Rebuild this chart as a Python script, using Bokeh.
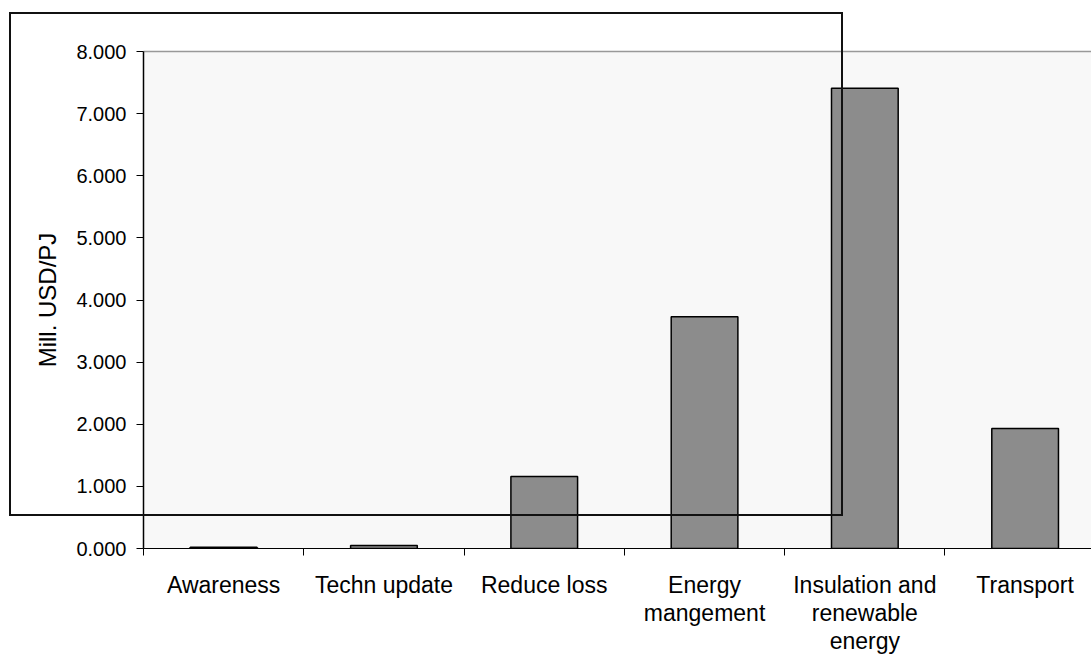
from bokeh.plotting import figure
from bokeh.models import (Range1d, FixedTicker, LinearAxis, InlineStyleSheet,
                          ColumnDataSource)
from bokeh.embed import file_html
from bokeh.resources import INLINE

# Specific cost per measure group
categories = ["Awareness", "Techn update", "Reduce loss",
              "Energy\nmangement", "Insulation and\nrenewable\nenergy",
              "Transport"]
costs = [0.02, 0.05, 1.16, 3.73, 7.41, 1.93]

y_ticks = [0, 1, 2, 3, 4, 5, 6, 7, 8]
y_tick_labels = ["0.000", "1.000", "2.000", "3.000", "4.000",
                 "5.000", "6.000", "7.000", "8.000"]

FONT = "Liberation Sans"

centers = [i + 0.5 for i in range(len(categories))]
source = ColumnDataSource(dict(x=centers, top=costs))

# framing rectangle laid over the whole canvas (not clipped to the plot area)
frame_css = InlineStyleSheet(css="""
:host { position: relative; }
:host::after {
  content: "";
  position: absolute;
  left: 9px; top: 12px; width: 834px; height: 504px;
  box-sizing: border-box;
  border: 2px solid #111111;
  pointer-events: none;
  z-index: 10;
}
""")

p = figure(width=1091, height=657, output_backend="svg",
           toolbar_location=None,
           x_range=Range1d(0, 5.914), y_range=Range1d(0, 8),
           x_axis_type=None, y_axis_type=None,
           min_border_left=143, min_border_right=0,
           min_border_top=51, min_border_bottom=108,
           stylesheets=[frame_css])

p.background_fill_color = "#f8f8f8"
p.border_fill_color = "white"
p.outline_line_color = None
p.grid.visible = False

p.vbar(x="x", top="top", width=0.416, source=source,
       fill_color="#8c8c8c", line_color="black", line_width=1.5)

# value axis
yaxis = LinearAxis(ticker=FixedTicker(ticks=y_ticks, minor_ticks=[]),
                   axis_label="Mill. USD/PJ")
yaxis.major_label_overrides = {t: lab for t, lab in zip(y_ticks, y_tick_labels)}
yaxis.axis_line_color = "black"
yaxis.axis_line_width = 1.5
yaxis.major_tick_line_color = "black"
yaxis.major_tick_in = 0
yaxis.major_tick_out = 7
yaxis.major_label_standoff = 10
yaxis.major_label_text_font = FONT
yaxis.major_label_text_font_size = "20px"
yaxis.major_label_text_color = "black"
yaxis.axis_label_text_font = FONT
yaxis.axis_label_text_font_size = "24px"
yaxis.axis_label_text_font_style = "normal"
yaxis.axis_label_text_color = "black"
yaxis.axis_label_standoff = 12
p.add_layout(yaxis, "left")

# category axis: labels centred, tick marks on the boundaries
xaxis = LinearAxis(ticker=FixedTicker(ticks=centers,
                                      minor_ticks=list(range(len(categories) + 1))))
xaxis.major_label_overrides = {c: lab for c, lab in zip(centers, categories)}
xaxis.axis_line_color = "black"
xaxis.axis_line_width = 1.2
xaxis.major_tick_line_color = None
xaxis.major_tick_in = 0
xaxis.major_tick_out = 0
xaxis.minor_tick_line_color = "black"
xaxis.minor_tick_in = 0
xaxis.minor_tick_out = 7
xaxis.major_label_standoff = 16
xaxis.major_label_text_font = FONT
xaxis.major_label_text_font_size = "23px"
xaxis.major_label_text_color = "black"
xaxis.major_label_text_line_height = 1.09
p.add_layout(xaxis, "below")

# thin grey edge along the top of the plot area
top_edge = LinearAxis(ticker=FixedTicker(ticks=[]))
top_edge.axis_line_color = "#999999"
top_edge.axis_line_width = 1.5
top_edge.major_tick_line_color = None
top_edge.minor_tick_line_color = None
top_edge.major_label_text_font_size = "0px"
p.add_layout(top_edge, "above")

open("out.html", "w").write(file_html(p, INLINE))
